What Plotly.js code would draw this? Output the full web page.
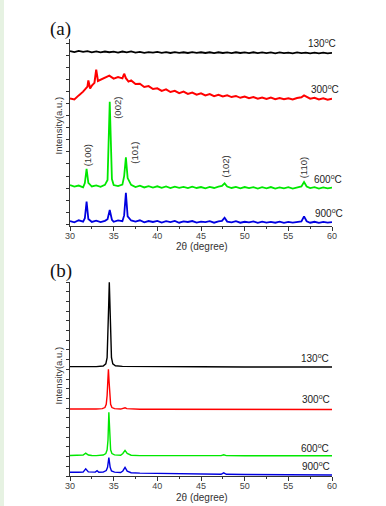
<!DOCTYPE html>
<html>
<head>
<meta charset="utf-8">
<script src="https://cdn.plot.ly/plotly-3.0.1.min.js"></script>
<style>
html,body{margin:0;padding:0;background:#fff;}
#chart{width:386px;height:506px;}
</style>
</head>
<body>
<div id="chart"></div>
<script>
// ---------- Panel (a) data ----------
const xA130 = [30,30.5,31,31.5,32,32.5,33,33.5,34,34.5,
  35,35.5,36,36.5,37,37.5,38,38.5,39,39.5,
  40,40.5,41,41.5,42,42.5,43,43.5,44,44.5,
  45,45.5,46,46.5,47,47.5,48,48.5,49,49.5,
  50,50.5,51,51.5,52,52.5,53,53.5,54,54.5,
  55,55.5,56,56.5,57,57.5,58,58.5,59,59.5,
  60];
const yA130 = [93.5,93.0,93.6,93.1,93.5,92.9,93.4,92.8,93.3,92.9,
  93.2,92.7,93.3,92.8,93.4,92.7,93.1,92.6,93.0,92.7,
  93.1,92.6,93.0,92.5,93.0,92.6,92.9,92.5,93.0,92.6,
  92.9,92.5,92.9,92.4,92.9,92.5,92.8,92.4,92.9,92.5,
  92.8,92.4,92.9,92.4,92.8,92.4,92.8,92.3,92.8,92.4,
  92.7,92.3,92.8,92.4,92.7,92.3,92.7,92.3,92.7,92.3,
  92.6];

const xA300 = [30,30.5,31,31.5,32,32.1,32.3,32.5,32.8,33,
  33.2,33.5,34,34.5,35,35.5,36,36.2,36.4,36.7,
  37,37.5,38,38.5,39,39.5,40,40.5,41,41.5,
  42,42.5,43,43.5,44,44.5,45,45.5,46,46.5,
  47,47.5,48,48.5,49,49.5,50,50.5,51,51.5,
  52,52.5,53,53.5,54,54.5,55,55.5,56,56.5,
  56.8,57.1,57.5,58,58.5,59,59.5,60];
const yA300 = [68.2,67.6,69.8,71.8,74.5,77.8,73.5,75.0,76.5,83.6,
  77.5,78.2,79.0,80.4,78.8,79.6,78.9,81.4,79.0,77.2,
  77.8,75.9,76.0,74.3,74.8,73.2,73.6,72.2,73.0,71.6,
  72.2,71.0,71.8,70.6,71.3,70.2,70.9,69.8,70.5,69.4,
  70.1,69.2,69.8,68.9,69.5,68.5,69.2,68.3,68.9,68.0,
  68.7,67.9,68.6,67.8,68.4,67.7,68.3,67.6,68.4,68.8,
  69.8,68.9,68.0,68.5,67.6,68.3,67.5,68.0];

const xA600 = [30,30.5,31,31.5,31.7,31.9,32.1,32.5,33,33.5,
  34,34.3,34.55,34.8,35,35.5,36,36.2,36.4,36.6,
  37,37.5,38,38.5,39,39.5,40,40.5,41,41.5,
  42,42.5,43,43.5,44,44.5,45,45.5,46,46.5,
  47,47.4,47.7,48,48.5,49,49.5,50,50.5,51,
  51.5,52,52.5,53,53.5,54,54.5,55,55.5,56,
  56.5,56.8,57.1,57.5,58,58.5,59,59.5,60];
const yA600 = [21.8,20.9,21.5,20.6,22.8,30.5,23.0,21.0,21.6,20.8,
  21.9,24.5,66.4,25.0,21.8,21.2,22.0,26.5,36.6,25.5,
  21.9,20.7,21.4,20.5,21.2,20.4,21.1,20.3,21.0,20.2,
  20.9,20.3,20.8,20.1,20.9,20.2,20.7,20.0,20.8,20.2,
  20.9,21.3,22.7,21.0,20.2,20.8,20.0,20.7,20.1,20.6,
  19.9,20.6,20.0,20.7,19.9,20.5,20.0,20.6,19.9,20.5,
  21.0,23.4,21.0,20.1,20.6,19.9,20.5,20.0,20.4];

const xA900 = [30,30.5,31,31.5,31.7,31.9,32.1,32.5,33,33.5,
  34,34.3,34.55,34.8,35,35.5,36,36.2,36.4,36.6,
  37,37.5,38,38.5,39,39.5,40,40.5,41,41.5,
  42,42.5,43,43.5,44,44.5,45,45.5,46,46.5,
  47,47.4,47.7,48,48.5,49,49.5,50,50.5,51,
  51.5,52,52.5,53,53.5,54,54.5,55,55.5,56,
  56.5,56.8,57.1,57.5,58,58.5,59,59.5,60];
const yA900 = [2.5,1.8,2.9,2.2,4.0,12.9,3.6,2.0,2.7,1.9,
  2.6,3.5,8.4,3.2,2.1,2.8,2.4,5.5,17.6,5.0,
  2.8,2.2,2.9,1.8,2.5,2.0,2.6,1.7,2.4,1.9,
  2.6,1.6,2.3,2.0,2.5,1.7,2.2,1.9,2.4,1.6,
  2.3,2.6,4.3,2.2,1.8,2.4,1.6,2.1,1.8,2.3,
  1.5,2.2,1.7,2.0,1.6,2.2,1.5,2.0,1.7,2.1,
  2.3,5.0,2.4,1.6,2.1,1.5,2.0,1.6,1.9];

// ---------- Panel (b) data ----------
const xB130 = [30,31,32,33,33.8,34.1,34.25,34.35,34.43,34.5,34.57,34.65,34.75,34.9,35.2,36,38,40,45,50,55,60];
const yB130 = [56.4,56.3,56.4,56.4,56.7,57.8,61,72,88,99.8,88,72,61,57.8,56.8,56.5,56.4,56.3,56.3,56.2,56.2,56.2];

const xB300 = [30,31,32,33,33.7,34.0,34.15,34.25,34.33,34.4,34.47,34.55,34.65,34.8,35.1,35.8,36.1,36.3,36.5,37,38,40,45,50,55,60];
const yB300 = [34.5,34.4,34.5,34.5,34.7,35.3,37,41.5,49,55.0,49,41.5,37,35.3,34.7,34.5,34.7,35.2,34.7,34.5,34.4,34.4,34.3,34.3,34.3,34.3];

const xB600 = [30,31,31.5,31.8,32.1,32.5,33,33.8,34.1,34.25,34.35,34.45,34.55,34.65,34.8,35.1,35.8,36.05,36.3,36.55,37,38,40,45,47.3,47.6,47.9,50,55,56.5,56.8,57.1,60];
const yB600 = [10.6,10.6,10.8,11.8,10.8,10.6,10.5,10.8,11.6,13.5,18.5,32.8,18.5,13.5,11.6,10.9,10.7,11.6,13.2,11.6,10.7,10.5,10.5,10.4,10.5,10.9,10.5,10.4,10.4,10.4,10.7,10.4,10.4];

const xB900 = [30,30.5,31,31.5,31.8,32.1,32.5,32.9,33.1,33.3,33.8,34.15,34.3,34.45,34.6,34.75,35.1,35.8,36.05,36.3,36.55,37,38,40,42,45,47.3,47.6,47.9,50,55,56.5,56.8,57.1,60];
const yB900 = [1.9,1.8,1.9,2.0,3.7,2.1,1.9,2.0,2.7,1.9,2.0,2.8,4.5,9.5,4.5,2.6,2.0,1.8,2.6,4.4,2.5,1.7,1.5,1.3,1.1,0.9,0.9,1.6,0.9,0.8,0.7,0.6,0.9,0.6,0.5];

// ---------- Text ----------
const seriesLabels = ['130<sup>o</sup>C','300<sup>o</sup>C','600<sup>o</sup>C','900<sup>o</sup>C'];
const millerLabels = ['(100)','(002)','(101)','(102)','(110)'];
const panelLabels = ['(a)','(b)'];
const xTitle = '2θ (degree)';
const yTitle = 'Intensity(a.u.)';
const xTicks = [30,35,40,45,50,55,60];

// ---------- Styling ----------
const W = 386, H = 506;
const px = v => v / W;
const py = v => 1 - v / H;
const colors = ['#000000','#ff0000','#00e800','#0000e0'];
const SANS = 'Liberation Sans, Arial, sans-serif';
const SERIF = 'Liberation Serif, Times New Roman, serif';

function tr(x, y, c, xa, ya, w) {
  return {x: x, y: y, type: 'scatter', mode: 'lines', xaxis: xa, yaxis: ya,
    line: {color: c, width: w}, hoverinfo: 'skip'};
}
const data = [
  tr(xA130, yA130, colors[0], 'x', 'y', 1.8),
  tr(xA300, yA300, colors[1], 'x', 'y', 2.0),
  tr(xA600, yA600, colors[2], 'x', 'y', 1.8),
  tr(xA900, yA900, colors[3], 'x', 'y', 1.8),
  tr(xB130, yB130, colors[0], 'x2', 'y2', 1.4),
  tr(xB300, yB300, colors[1], 'x2', 'y2', 1.4),
  tr(xB600, yB600, colors[2], 'x2', 'y2', 1.4),
  tr(xB900, yB900, colors[3], 'x2', 'y2', 1.4)
];

const xDom = [px(70), px(332)];
function xax(anchor) {
  return {domain: xDom, anchor: anchor, range: [30, 60], showline: true, linecolor: '#333', linewidth: 1,
    ticks: 'outside', ticklen: 4, tickwidth: 1, tickcolor: '#333', tickmode: 'array', tickvals: xTicks,
    ticktext: xTicks.map(String), ticklabelstandoff: -3,
    minor: {dtick: 2.5, tick0: 30, ticks: 'outside', ticklen: 2, tickcolor: '#333'},
    showgrid: false, zeroline: false, fixedrange: true,
    tickfont: {family: SANS, size: 9, color: '#444'}};
}
function yax(anchor, dom, dtick, tick0) {
  return {domain: dom, anchor: anchor, range: [0, 100], showline: true, linecolor: '#333', linewidth: 1,
    ticks: 'outside', ticklen: 3, tickwidth: 1, tickcolor: '#333', dtick: dtick, tick0: tick0,
    showticklabels: false, showgrid: false, zeroline: false, fixedrange: true};
}

const ann = [];
function txt(t, x, y, opts) {
  ann.push(Object.assign({text: t, xref: 'paper', yref: 'paper', x: px(x), y: py(y),
    showarrow: false, xanchor: 'center', yanchor: 'middle',
    font: {family: SANS, size: 10, color: '#222'}}, opts || {}));
}
// series labels panel (a)
const labA = [[338, 43.3],[340.7, 89.3],[344, 179.3],[345, 212.7]];
labA.forEach((p, i) => txt(seriesLabels[i], p[0], p[1], {xanchor: 'right'}));
// series labels panel (b)
const labB = [[330.7, 358.3],[331.7, 399.3],[331, 447.7],[331.7, 466]];
labB.forEach((p, i) => txt(seriesLabels[i], p[0], p[1], {xanchor: 'right'}));
// Miller indices
const millerPos = [[87.5, 155.8],[117.5, 108.3],[134.2, 152.5],[225.8, 166.7],[303.8, 167.5]];
millerPos.forEach((p, i) => txt(millerLabels[i], p[0], p[1], {textangle: -90, font: {family: SANS, size: 9.5, color: '#333'}}));
// panel letters
txt(panelLabels[0], 60.3, 29, {font: {family: SERIF, size: 19, color: '#111'}});
txt(panelLabels[1], 61, 271, {font: {family: SERIF, size: 19, color: '#111'}});
// axis titles
txt(xTitle, 201.7, 246, {font: {family: SANS, size: 10, color: '#333'}});
txt(xTitle, 201.7, 497, {font: {family: SANS, size: 10, color: '#333'}});
txt(yTitle, 57.5, 126, {textangle: -90, font: {family: SANS, size: 9.5, color: '#333'}});
txt(yTitle, 57.5, 376, {textangle: -90, font: {family: SANS, size: 9.5, color: '#333'}});

const layout = {
  width: W, height: H, margin: {l: 0, r: 0, t: 0, b: 0, pad: 0},
  paper_bgcolor: '#ffffff', plot_bgcolor: 'rgba(0,0,0,0)', showlegend: false,
  xaxis: xax('y'),
  yaxis: yax('x', [py(225.7), py(39)], 6.465, 0.75),
  xaxis2: xax('y2'),
  yaxis2: yax('x2', [py(476), py(282)], 5, 0),
  annotations: ann,
  shapes: [{type: 'rect', xref: 'paper', yref: 'paper', x0: 0, x1: px(4), y0: 0, y1: 1,
    fillcolor: '#e6f2e2', line: {width: 0}, layer: 'below'}]
};

Plotly.newPlot('chart', data, layout, {displayModeBar: false, staticPlot: true});
</script>
</body>
</html>
